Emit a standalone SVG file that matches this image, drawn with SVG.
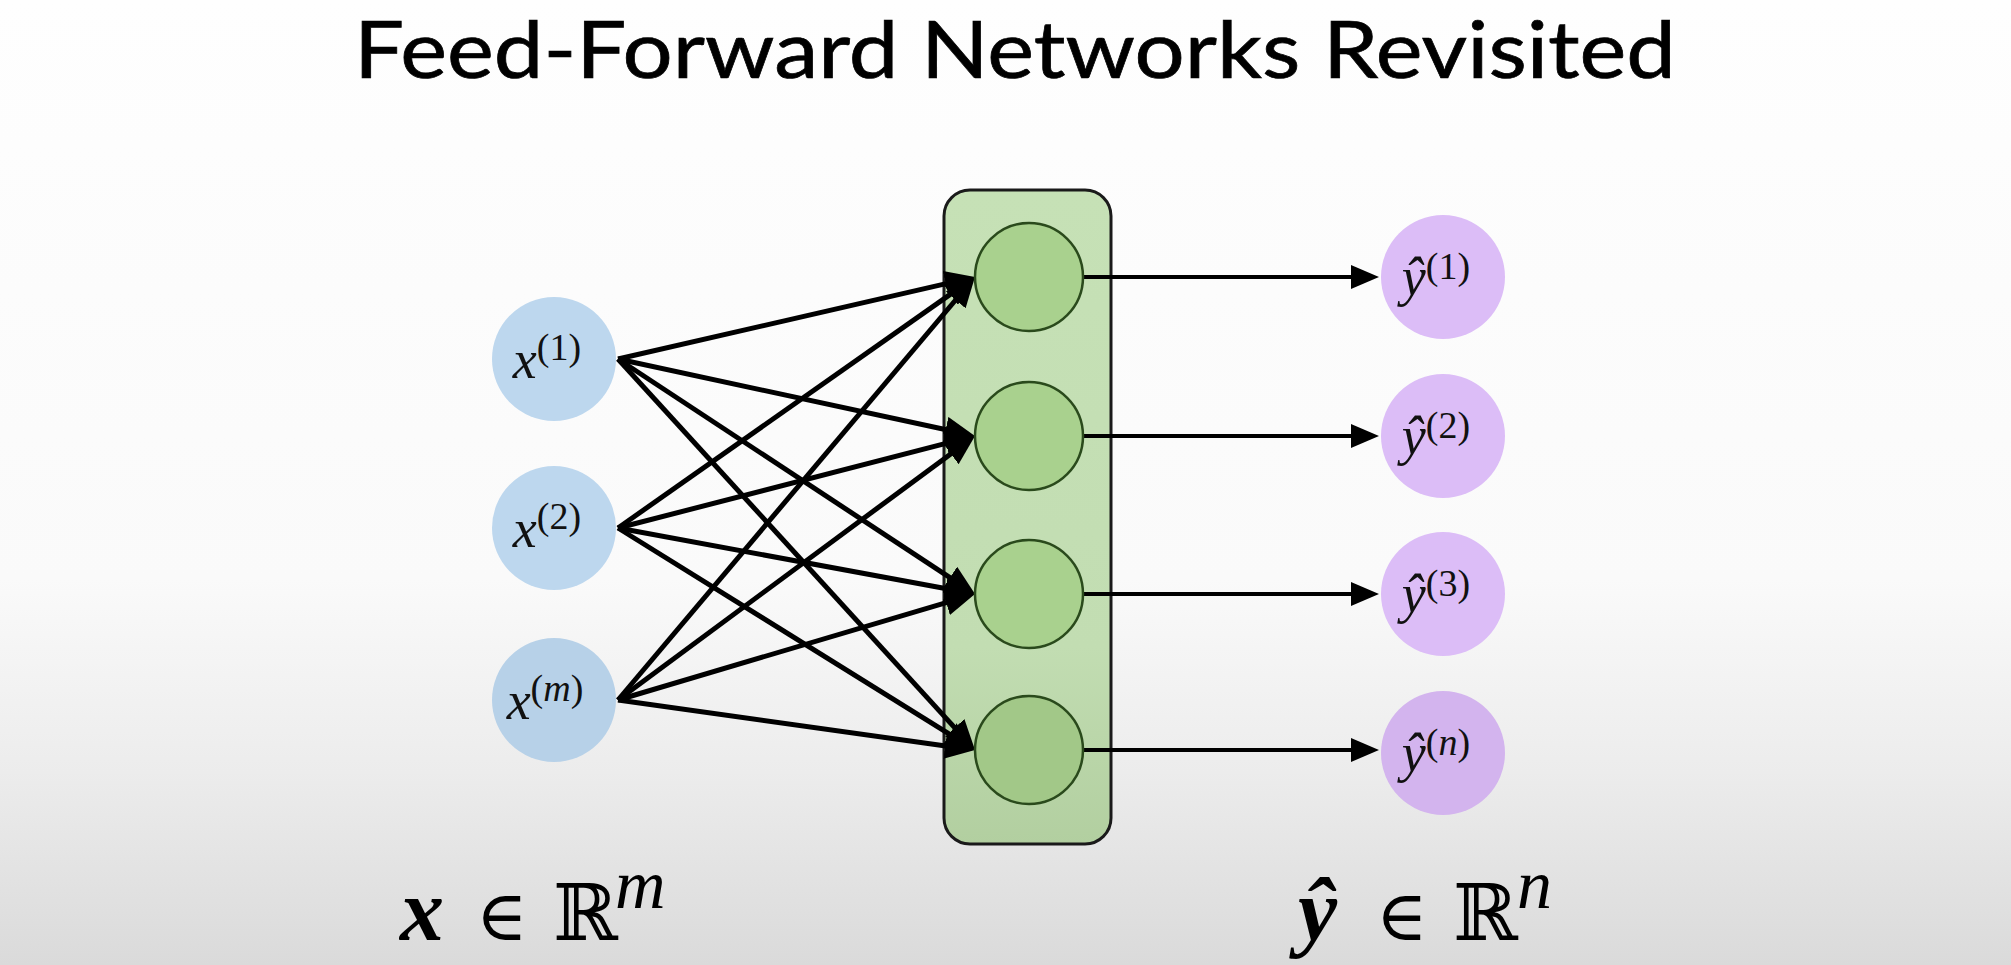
<svg xmlns="http://www.w3.org/2000/svg" width="2011" height="965" viewBox="0 0 2011 965">
  <defs>
    <linearGradient id="bg" x1="0" y1="0" x2="0" y2="1">
      <stop offset="0" stop-color="#fefefe"/>
      <stop offset="0.6" stop-color="#fafafa"/>
      <stop offset="0.8" stop-color="#ececec"/>
      <stop offset="1" stop-color="#dadada"/>
    </linearGradient>
    <linearGradient id="boxg" x1="0" y1="0" x2="0" y2="1">
      <stop offset="0" stop-color="#c6e1b6"/>
      <stop offset="0.7" stop-color="#c2ddb2"/>
      <stop offset="1" stop-color="#b2cfa0"/>
    </linearGradient>
    <marker id="ah" viewBox="0 0 30 26" refX="15" refY="13" markerWidth="30" markerHeight="26" markerUnits="userSpaceOnUse" orient="auto">
      <path d="M0,0 L30,13 L0,26 z" fill="#000"/>
    </marker>
    <marker id="ah2" viewBox="0 0 28 24" refX="14" refY="12" markerWidth="28" markerHeight="24" markerUnits="userSpaceOnUse" orient="auto">
      <path d="M0,0 L28,12 L0,24 z" fill="#000"/>
    </marker>
  </defs>
  <style>
    .title { font-family: Lato, "Open Sans", sans-serif; font-size: 80px; fill: #000; stroke: #000; stroke-width: 0.7px; }
    .lbl { font-family: "Liberation Serif", "DejaVu Serif", serif; font-size: 54px; font-style: italic; fill: #111; }
    .sup { font-size: 38px; font-style: normal; }
    .supi { font-size: 38px; font-style: italic; }
    .in { fill: #bdd7ee; }
    .out { fill: #dcbdf7; }
    .hid { fill: #a9d18e; stroke: #2a4a1c; stroke-width: 2.5; }
    .e { stroke: #000; stroke-width: 5; fill: none; marker-end: url(#ah); }
    .o { stroke: #000; stroke-width: 4; fill: none; marker-end: url(#ah2); }
    .math { font-family: "Liberation Serif", "DejaVu Serif", serif; font-size: 80px; fill: #000; }
    .bx { font-weight: bold; font-style: italic; font-size: 88px; }
    .el { font-family: "DejaVu Serif", serif; font-size: 70px; }
    .rr { font-family: "DejaVu Serif", serif; font-size: 78px; }
    .ex { font-style: italic; font-size: 70px; }
  </style>
  <rect x="0" y="0" width="2011" height="965" fill="url(#bg)"/>
  <text class="title" x="354" y="78" textLength="1322" lengthAdjust="spacingAndGlyphs">Feed-Forward Networks Revisited</text>

  <g id="hidden-layer">
    <rect x="944" y="190" width="167" height="654" rx="26" ry="26" fill="url(#boxg)" stroke="#1a1a1a" stroke-width="3"/>
  </g>

  <g id="connectors">
    <line class="e" x1="618" y1="359" x2="960.4" y2="280.4"/>
    <line class="e" x1="618" y1="359" x2="960.3" y2="432.8"/>
    <line class="e" x1="618" y1="359" x2="962.5" y2="585.8"/>
    <line class="e" x1="618" y1="359" x2="964.9" y2="738.9"/>
    <line class="e" x1="618" y1="528" x2="962.7" y2="285.6"/>
    <line class="e" x1="618" y1="528" x2="960.5" y2="439.7"/>
    <line class="e" x1="618" y1="528" x2="960.2" y2="591.3"/>
    <line class="e" x1="618" y1="528" x2="962.3" y2="742.1"/>
    <line class="e" x1="618" y1="700" x2="965.3" y2="288.5"/>
    <line class="e" x1="618" y1="700" x2="962.9" y2="444.9"/>
    <line class="e" x1="618" y1="700" x2="960.6" y2="598.3"/>
    <line class="e" x1="618" y1="700" x2="960.1" y2="747.9"/>
    <line class="o" x1="1083" y1="277" x2="1365" y2="277"/>
    <line class="o" x1="1083" y1="436" x2="1365" y2="436"/>
    <line class="o" x1="1083" y1="594" x2="1365" y2="594"/>
    <line class="o" x1="1083" y1="750" x2="1365" y2="750"/>
  </g>

  <g id="h1"><circle class="hid" cx="1029" cy="277" r="54"/></g>
  <g id="h2"><circle class="hid" cx="1029" cy="436" r="54"/></g>
  <g id="h3"><circle class="hid" cx="1029" cy="594" r="54"/></g>
  <g id="h4"><circle class="hid" cx="1029" cy="750" r="54" style="fill:#a2c888"/></g>

  <g id="x1">
    <circle class="in" cx="554" cy="359" r="62"/>
    <text class="lbl" x="547" y="378" text-anchor="middle">x<tspan class="sup" dy="-18">(1)</tspan></text>
  </g>
  <g id="x2">
    <circle class="in" cx="554" cy="528" r="62"/>
    <text class="lbl" x="547" y="547" text-anchor="middle">x<tspan class="sup" dy="-18">(2)</tspan></text>
  </g>
  <g id="xm">
    <circle class="in" cx="554" cy="700" r="62" style="fill:#b7d1e8"/>
    <text class="lbl" x="545" y="719" text-anchor="middle">x<tspan class="sup" dy="-18">(</tspan><tspan class="supi">m</tspan><tspan class="sup">)</tspan></text>
  </g>

  <g id="y1">
    <circle class="out" cx="1443" cy="277" r="62"/>
    <text class="lbl" x="1436" y="295" text-anchor="middle">ŷ<tspan class="sup" dy="-16">(1)</tspan></text>
  </g>
  <g id="y2">
    <circle class="out" cx="1443" cy="436" r="62"/>
    <text class="lbl" x="1436" y="454" text-anchor="middle">ŷ<tspan class="sup" dy="-16">(2)</tspan></text>
  </g>
  <g id="y3">
    <circle class="out" cx="1443" cy="594" r="62"/>
    <text class="lbl" x="1436" y="612" text-anchor="middle">ŷ<tspan class="sup" dy="-16">(3)</tspan></text>
  </g>
  <g id="yn">
    <circle class="out" cx="1443" cy="753" r="62" style="fill:#d3b4ee"/>
    <text class="lbl" x="1436" y="771" text-anchor="middle">ŷ<tspan class="sup" dy="-16">(</tspan><tspan class="supi">n</tspan><tspan class="sup">)</tspan></text>
  </g>

  <g id="label-x">
    <text class="math" y="940"><tspan class="bx" x="400">x</tspan><tspan class="el" x="476">∈</tspan><tspan class="rr" x="553">ℝ</tspan><tspan class="ex" x="615" y="908">m</tspan></text>
  </g>
  <g id="label-y">
    <text class="math" y="940"><tspan class="bx" x="1298">ŷ</tspan><tspan class="el" x="1376">∈</tspan><tspan class="rr" x="1453">ℝ</tspan><tspan class="ex" x="1517" y="908">n</tspan></text>
  </g>
</svg>
